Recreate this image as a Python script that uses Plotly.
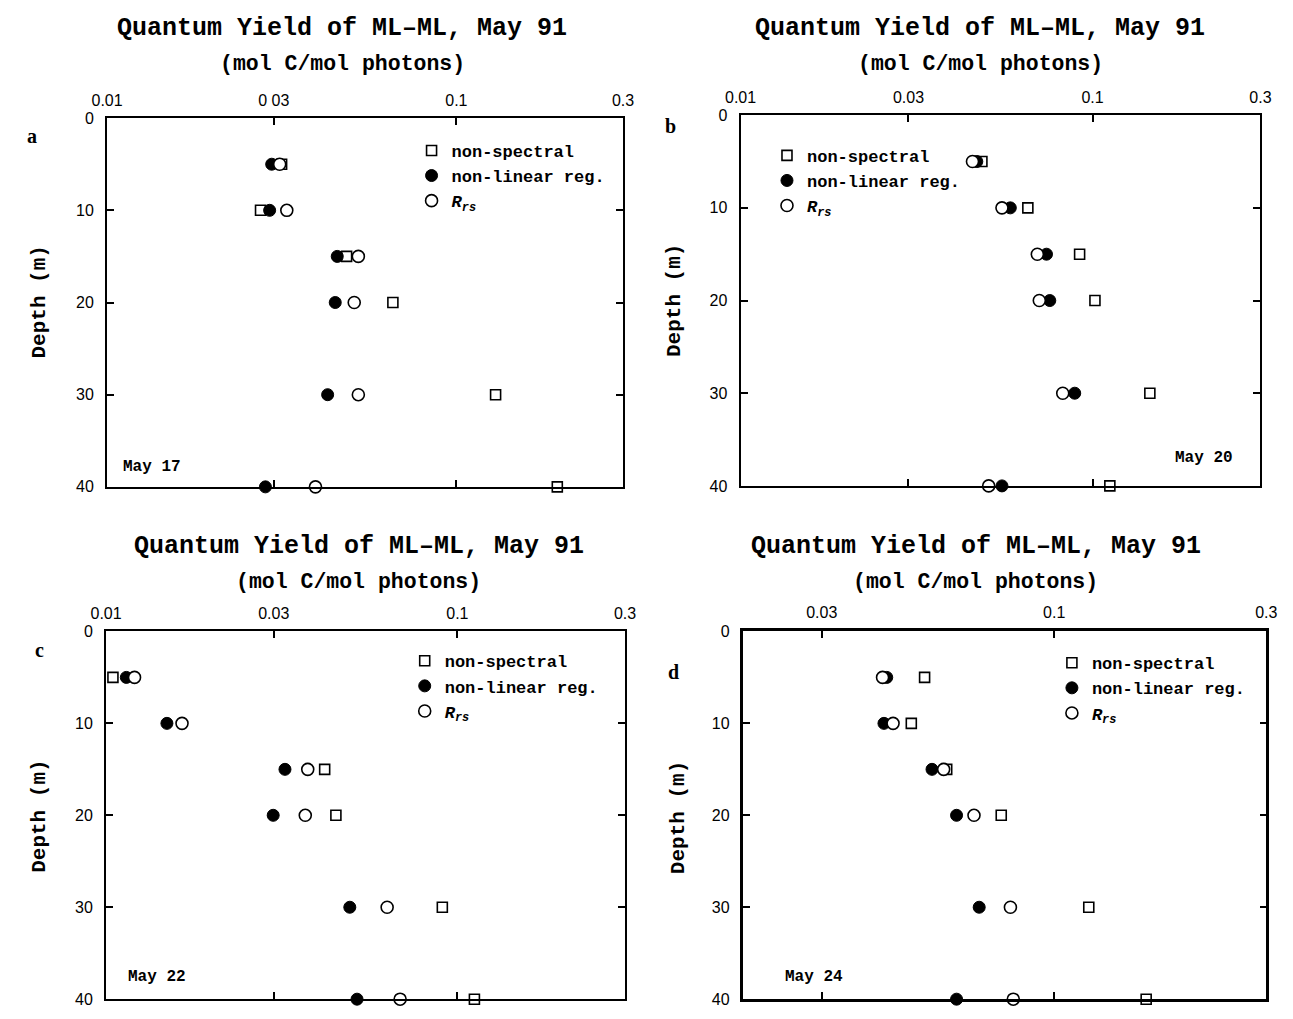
import plotly.graph_objects as go
import math

W, H = 1293, 1019

depths = [5, 10, 15, 20, 30, 40]

a_nonspec = [0.0316, 0.0275, 0.0485, 0.0658, 0.1295, 0.1945]
a_nonlin = [0.0296, 0.0292, 0.0456, 0.0450, 0.0428, 0.0284]
a_rrs = [0.0312, 0.0327, 0.0524, 0.0510, 0.0524, 0.0395]

b_nonspec = [0.0485, 0.0655, 0.0919, 0.1016, 0.1455, 0.112]
b_nonlin = [0.0469, 0.0584, 0.0740, 0.0756, 0.0890, 0.0553]
b_rrs = [0.0456, 0.0553, 0.0697, 0.0706, 0.0823, 0.0507]

c_nonspec = [0.01046, None, 0.0419, 0.0451, 0.0906, 0.1118]
c_nonlin = [0.01142, 0.0149, 0.0323, 0.0299, 0.0494, 0.0518]
c_rrs = [0.01205, 0.01645, 0.0375, 0.0369, 0.0631, 0.0687]

d_nonspec = [0.0511, 0.0477, 0.0573, 0.0760, 0.1196, 0.161]
d_nonlin = [0.0420, 0.0414, 0.0531, 0.0603, 0.0678, 0.0603]
d_rrs = [0.0411, 0.0434, 0.0564, 0.0660, 0.0797, 0.0809]

x_tickvals = [0.01, 0.03, 0.1, 0.3]
x_ticktext = ["0.01", "0 03", "0.1", "0.3"]
x_ticktext_std = ["0.01", "0.03", "0.1", "0.3"]
y_tickvals = [0, 10, 20, 30, 40]

title_text = "Quantum Yield of ML\u2013ML, May 91"
subtitle_text = "(mol C/mol photons)"
series_names = ["non-spectral", "non-linear reg.", "<i>R</i><sub><i>rs</i></sub>"]
y_title = "Depth (m)"

MONO = "Liberation Mono"
SANS = "Liberation Sans"
SERIF = "Liberation Serif"


def px(x):
    return x / W


def py(y):
    return 1 - y / H


panels = [
    dict(key="a", box=(93, 620, 112, 487), xr=(0.01, 0.3), ticktext=x_ticktext,
         data=(a_nonspec, a_nonlin, a_rrs), date="May 17", date_pos=(139, 467),
         leg=(404, 127), label_pos=(16, 130), ytitle=(24, 299), title_cx=333,
         title_y=(21, 57)),
    dict(key="b", box=(740, 1271, 109, 486), xr=(0.01, 0.3), ticktext=x_ticktext_std,
         data=(b_nonspec, b_nonlin, b_rrs), date="May 20", date_pos=(1213, 458),
         leg=(767, 132), label_pos=(668, 120), ytitle=(672, 297), title_cx=985,
         title_y=(21, 57)),
    dict(key="c", box=(92, 622, 634, 1008), xr=(0.01, 0.3), ticktext=x_ticktext_std,
         data=(c_nonspec, c_nonlin, c_rrs), date="May 22", date_pos=(144, 985),
         leg=(397, 646), label_pos=(24, 653), ytitle=(24, 822), title_cx=350,
         title_y=(548, 584)),
    dict(key="d", box=(743, 1277, 634, 1008), xr=(0.02, 0.3), ticktext=x_ticktext_std,
         data=(d_nonspec, d_nonlin, d_rrs), date="May 24", date_pos=(815, 985),
         leg=(1058, 648), label_pos=(672, 675), ytitle=(676, 823), title_cx=980,
         title_y=(548, 584)),
]

fig = go.Figure()
annotations = []
layout = {}

for i, p in enumerate(panels):
    n = "" if i == 0 else str(i + 1)
    xa, ya = "x" + n, "y" + n
    legname = "legend" + n
    x0, x1, y0, y1 = p["box"]
    lw = 2.5 if p["key"] == "d" else 2
    layout["xaxis" + n] = dict(
        type="log", domain=[px(x0), px(x1)],
        range=[math.log10(p["xr"][0]), math.log10(p["xr"][1])],
        side="top", anchor=ya, tickvals=x_tickvals, ticktext=p["ticktext"],
        ticks="inside", ticklen=7, tickwidth=1.5, tickcolor="black",
        showline=True, linecolor="black", linewidth=lw, mirror="ticks",
        showgrid=False, zeroline=False, ticklabelstandoff=4,
        tickfont=dict(family=SANS, size=16, color="black"),
    )
    layout["yaxis" + n] = dict(
        domain=[py(y1), py(y0)], range=[40, 0], anchor=xa,
        tickvals=y_tickvals, ticks="inside", ticklen=7, tickwidth=1.5,
        tickcolor="black", showline=True, linecolor="black", linewidth=lw,
        mirror="ticks", showgrid=False, zeroline=False,
        tickfont=dict(family=SANS, size=16, color="black"),
        ticklabelstandoff=8,
    )
    ns, nl, rr = p["data"]
    fig.add_trace(go.Scatter(
        x=ns, y=depths, xaxis=xa, yaxis=ya, mode="markers", name=series_names[0],
        legend=legname, cliponaxis=False,
        marker=dict(symbol="square", size=10, color="white",
                    line=dict(color="black", width=1.6)),
    ))
    fig.add_trace(go.Scatter(
        x=nl, y=depths, xaxis=xa, yaxis=ya, mode="markers", name=series_names[1],
        legend=legname, cliponaxis=False,
        marker=dict(symbol="circle", size=12, color="black",
                    line=dict(color="black", width=1)),
    ))
    fig.add_trace(go.Scatter(
        x=rr, y=depths, xaxis=xa, yaxis=ya, mode="markers", name=series_names[2],
        legend=legname, cliponaxis=False,
        marker=dict(symbol="circle", size=12, color="white",
                    line=dict(color="black", width=1.6)),
    ))
    layout[legname] = dict(
        x=px(p["leg"][0]), y=py(p["leg"][1]), xanchor="left", yanchor="top",
        bgcolor="rgba(0,0,0,0)", borderwidth=0,
        font=dict(family=MONO, size=17, color="black", weight="bold"),
        itemwidth=30, tracegroupgap=0, traceorder="normal",
    )
    annotations.append(dict(
        text="<b>" + title_text + "</b>", x=px(p["title_cx"]), y=py(p["title_y"][0]),
        xref="paper", yref="paper", showarrow=False, xanchor="center", yanchor="middle",
        font=dict(family=MONO, size=25, color="black"),
    ))
    annotations.append(dict(
        text="<b>" + subtitle_text + "</b>", x=px(p["title_cx"]), y=py(p["title_y"][1]),
        xref="paper", yref="paper", showarrow=False, xanchor="center", yanchor="middle",
        font=dict(family=MONO, size=21.5, color="black"),
    ))
    annotations.append(dict(
        text="<b>" + y_title + "</b>", x=px(p["ytitle"][0]), y=py(p["ytitle"][1]),
        xref="paper", yref="paper", showarrow=False, textangle=-90,
        xanchor="center", yanchor="middle",
        font=dict(family=MONO, size=21, color="black"),
    ))
    annotations.append(dict(
        text="<b>" + p["key"] + "</b>", x=px(p["label_pos"][0]), y=py(p["label_pos"][1]),
        xref="paper", yref="paper", showarrow=False, xanchor="center", yanchor="middle",
        font=dict(family=SERIF, size=20, color="black"),
    ))
    annotations.append(dict(
        text="<b>" + p["date"] + "</b>", x=px(p["date_pos"][0]), y=py(p["date_pos"][1]),
        xref="paper", yref="paper", showarrow=False, xanchor="center", yanchor="middle",
        font=dict(family=MONO, size=16, color="black"),
    ))

fig.update_layout(
    width=W, height=H, margin=dict(l=0, r=0, t=0, b=0),
    paper_bgcolor="white", plot_bgcolor="white",
    annotations=annotations, showlegend=True, **layout,
)

fig.write_html("out.html", config={"displayModeBar": False})

# remove the default page margin so the figure sits at the window's corner
with open("out.html", "r", encoding="utf-8") as f:
    html = f.read()
html = html.replace("<body>", '<body style="margin:0;padding:0;overflow:hidden">', 1)
with open("out.html", "w", encoding="utf-8") as f:
    f.write(html)
